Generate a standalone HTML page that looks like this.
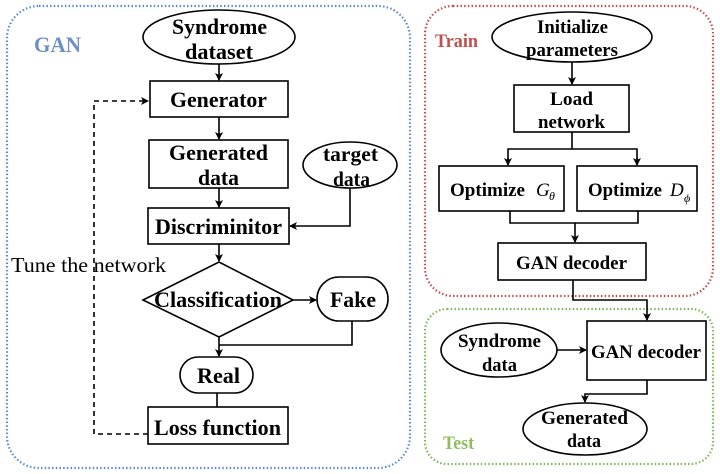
<!DOCTYPE html>
<html><head><meta charset="utf-8"><style>
html,body{margin:0;padding:0;background:#fff;}
svg{display:block;}
text{font-family:"Liberation Serif",serif;font-weight:bold;fill:#000;}
</style></head><body>
<svg width="720" height="474" viewBox="0 0 720 474" xmlns="http://www.w3.org/2000/svg">
<defs>
<marker id="a" markerWidth="8" markerHeight="8" refX="7" refY="4" orient="auto" markerUnits="userSpaceOnUse">
<path d="M0,0 L8,4 L0,8 L2,4 Z" fill="#000"/></marker>
</defs>
<g fill="none" stroke-width="2.2" stroke-dasharray="1.5 2.2">
<rect x="7" y="6" width="403" height="462" rx="32" stroke="#5b8bd0"/>
<rect x="425" y="6" width="288" height="290" rx="28" stroke="#c0504d"/>
<rect x="425" y="309" width="288" height="155" rx="22" stroke="#7fb65a"/>
</g>
<text x="34" y="52" font-size="22" textLength="47" lengthAdjust="spacingAndGlyphs" style="fill:#6b8fc6">GAN</text>
<text x="435" y="47" font-size="19" textLength="43" lengthAdjust="spacingAndGlyphs" style="fill:#c0504d">Train</text>
<text x="443" y="449" font-size="19" textLength="31" lengthAdjust="spacingAndGlyphs" style="fill:#8fbc5f">Test</text>

<g fill="#fff" stroke="#000" stroke-width="1.6">
<ellipse cx="219" cy="37" rx="76" ry="27"/>
<rect x="150" y="81" width="138" height="36"/>
<rect x="149" y="140" width="139" height="48"/>
<ellipse cx="350" cy="165" rx="47" ry="23"/>
<rect x="148" y="208" width="141" height="36"/>
<polygon points="143,300 219,262 293,300 219,337"/>
<rect x="317" y="277" width="71" height="44" rx="22"/>
<rect x="180" y="357" width="73" height="36" rx="18"/>
<rect x="148" y="407" width="140" height="37"/>
<ellipse cx="572" cy="37" rx="80" ry="25"/>
<rect x="514" y="85" width="115" height="47"/>
<rect x="439" y="166" width="125" height="45"/>
<rect x="577" y="166" width="120" height="45"/>
<rect x="498" y="243" width="148" height="37"/>
<ellipse cx="499" cy="350" rx="58" ry="27"/>
<rect x="587" y="321" width="119" height="59"/>
<ellipse cx="585" cy="429" rx="62" ry="26"/>
</g>

<g fill="none" stroke="#000" stroke-width="1.6">
<line x1="219" y1="64" x2="219" y2="80" marker-end="url(#a)"/>
<line x1="219" y1="117" x2="219" y2="139" marker-end="url(#a)"/>
<line x1="219" y1="188" x2="219" y2="207" marker-end="url(#a)"/>
<polyline points="350,188 350,226 290,226" marker-end="url(#a)"/>
<line x1="219" y1="244" x2="219" y2="261" marker-end="url(#a)"/>
<line x1="293" y1="300" x2="316" y2="300" marker-end="url(#a)"/>
<polyline points="352,321 352,345 219,345"/>
<line x1="219" y1="337" x2="219" y2="356" marker-end="url(#a)"/>
<line x1="217" y1="393" x2="217" y2="407"/>
<polyline points="148,434 94,434 94,101 148,101" stroke-dasharray="5 4" marker-end="url(#a)"/>
<line x1="572" y1="62" x2="572" y2="84" marker-end="url(#a)"/>
<polyline points="572,132 572,149"/>
<polyline points="508,165 508,149 637,149 637,165"/>
<line x1="508" y1="158" x2="508" y2="165" marker-end="url(#a)"/>
<line x1="637" y1="158" x2="637" y2="165" marker-end="url(#a)"/>
<polyline points="510,211 510,223 638,223 638,211"/>
<line x1="575" y1="223" x2="575" y2="242" marker-end="url(#a)"/>
<polyline points="573,280 573,300 647,300 647,320" marker-end="url(#a)"/>
<line x1="557" y1="350" x2="586" y2="350" marker-end="url(#a)"/>
<polyline points="647,380 647,394 585,394 585,402" marker-end="url(#a)"/>
</g>

<g font-size="22">
<text x="172" y="34" textLength="95" lengthAdjust="spacingAndGlyphs">Syndrome</text>
<text x="185" y="59" textLength="68" lengthAdjust="spacingAndGlyphs">dataset</text>
<text x="170" y="107" textLength="97" lengthAdjust="spacingAndGlyphs">Generator</text>
<text x="169" y="160" textLength="99" lengthAdjust="spacingAndGlyphs">Generated</text>
<text x="198" y="185" textLength="41" lengthAdjust="spacingAndGlyphs">data</text>
<text x="323" y="161" font-size="21" textLength="55" lengthAdjust="spacingAndGlyphs">target</text>
<text x="333" y="186" font-size="21" textLength="37" lengthAdjust="spacingAndGlyphs">data</text>
<text x="155" y="234" textLength="127" lengthAdjust="spacingAndGlyphs">Discriminitor</text>
<text x="154" y="307" textLength="128" lengthAdjust="spacingAndGlyphs">Classification</text>
<text x="330" y="307" textLength="46" lengthAdjust="spacingAndGlyphs">Fake</text>
<text x="197" y="383" textLength="43" lengthAdjust="spacingAndGlyphs">Real</text>
<text x="154" y="435" textLength="127" lengthAdjust="spacingAndGlyphs">Loss function</text>
</g>
<text x="11" y="272" font-size="21" textLength="155" lengthAdjust="spacingAndGlyphs" style="font-weight:normal">Tune the network</text>
<g font-size="19">
<text x="537" y="33" textLength="71" lengthAdjust="spacingAndGlyphs">Initialize</text>
<text x="526" y="56" textLength="92" lengthAdjust="spacingAndGlyphs">parameters</text>
<text x="550" y="105" textLength="43" lengthAdjust="spacingAndGlyphs">Load</text>
<text x="538" y="128" textLength="67" lengthAdjust="spacingAndGlyphs">network</text>
<text x="450" y="196" textLength="75" lengthAdjust="spacingAndGlyphs">Optimize</text>
<text x="588" y="196" textLength="74" lengthAdjust="spacingAndGlyphs">Optimize</text>
<text x="516" y="269" textLength="111" lengthAdjust="spacingAndGlyphs">GAN decoder</text>
<text x="458" y="347" textLength="83" lengthAdjust="spacingAndGlyphs">Syndrome</text>
<text x="482" y="371" textLength="35" lengthAdjust="spacingAndGlyphs">data</text>
<text x="591" y="358" textLength="110" lengthAdjust="spacingAndGlyphs">GAN decoder</text>
<text x="541" y="424" textLength="87" lengthAdjust="spacingAndGlyphs">Generated</text>
<text x="567" y="447" textLength="34" lengthAdjust="spacingAndGlyphs">data</text>
</g>
<text x="536" y="196" font-size="19" style="font-style:italic;font-weight:normal">G</text>
<text x="549" y="200" font-size="12" style="font-style:italic;font-weight:normal">θ</text>
<text x="670" y="196" font-size="19" style="font-style:italic;font-weight:normal">D</text>
<text x="684" y="202" font-size="12" style="font-style:italic;font-weight:normal">ϕ</text>
</svg>
</body></html>
